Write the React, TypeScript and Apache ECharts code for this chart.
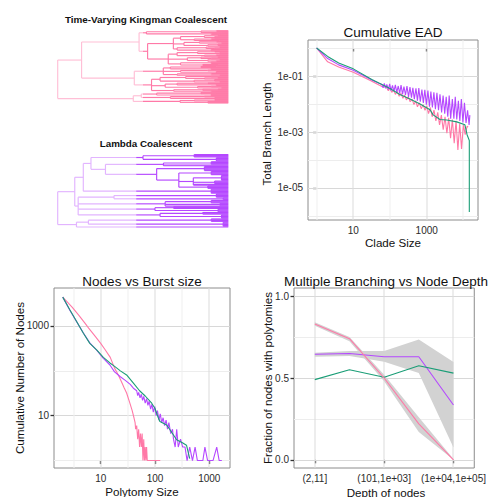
import React, { useEffect, useRef } from 'react';
import * as echarts from 'echarts';

const PINK = '#FF79A7';
const PURPLE = '#B548FF';
const GREEN = '#1B9E77';
const KING_LIGHT = '#FFBFD6';
const LAMBDA_LIGHT = '#E2B4FF';
const RIBBON = '#D2D2D2';
const FONT = '"Liberation Sans", Arial, Helvetica, sans-serif';

type TreeNode = number | TreeNode[];

// Trees: [node time (0 = root, 1 = tips), ...children]; a leaf is 1
const kingmanTree: TreeNode = [0,
  [0.14,
    [0.477,
      [0.52, [0.84, [0.93, 1, 1], [0.96, 1, 1]], [0.9, 1, [0.95, 1, 1]]],
      [0.527,
        [0.678,
          [0.72, [0.86, [0.94, 1, 1], [0.92, 1, 1, 1]], [0.8, [0.9, 1, 1], [0.95, 1, 1]]],
          [0.74, [0.83, [0.93, 1, 1], [0.96, 1, 1]], [0.88, [0.94, 1, 1, 1], 1]],
          [0.7, [0.87, [0.95, 1, 1], [0.92, 1, 1]], [0.9, 1, 1, 1]]
        ],
        [0.648,
          [0.7, [0.82, [0.92, 1, 1], [0.95, 1, 1, 1]], [0.86, [0.93, 1, 1], 1]],
          [0.76, [0.84, [0.94, 1, 1], [0.9, 1, 1]], [0.88, [0.95, 1, 1], [0.93, 1, 1]]],
          [0.72, [0.9, 1, 1, 1], [0.85, [0.94, 1, 1], 1]]
        ]
      ]
    ],
    [0.449,
      [0.619,
        [0.66, [0.84, [0.93, 1, 1], 1], [0.9, 1, 1, 1]],
        [0.72, [0.88, 1, 1], [0.93, 1, 1, 1]],
        [0.7, [0.9, 1, 1], [0.95, 1, 1]]
      ],
      [0.55,
        [0.6, [0.75, [0.9, 1, 1], [0.86, [0.94, 1, 1], 1]], [0.8, [0.92, 1, 1, 1], [0.95, 1, 1]]],
        [0.63, [0.7, [0.88, 1, 1], [0.93, 1, 1, 1]], [0.82, [0.9, 1, 1], [0.96, 1, 1]]],
        [0.68, [0.85, [0.94, 1, 1], 1], [0.9, 1, 1]]
      ]
    ]
  ],
  [0.443,
    [0.49, [0.58, [0.84, [0.93, 1, 1], 1], [0.9, 1, 1, 1]], [0.66, [0.86, 1, 1], [0.92, 1, 1, 1]]],
    [0.717, [0.8, [0.92, 1, 1], 1], [0.88, 1, 1, 1]]
  ]
];

const lambdaTree: TreeNode = [0,
  [0.10,
    [0.15,
      [0.195,
        [0.5, [0.8, 1, 1, 1, 1], [0.93, 1, 1, 1, 1, 1]],
        [0.28,
          [0.62, [0.9, 1, 1, 1, 1], 1, 1],
          [0.58,
            [0.86, 1, 1, 1, 1, 1, 1],
            [0.71,
              [0.9, 1, 1, 1, 1, 1],
              [0.795, [0.96, 1, 1, 1, 1, 1, 1, 1], [0.92, 1, 1, 1, 1], 1, 1],
              [0.88, 1, 1, 1, 1]
            ]
          ]
        ]
      ],
      [0.9, 1, 1, 1, 1, 1, 1]
    ],
    [0.12,
      [0.33, [0.93, 1, 1, 1, 1, 1], [0.97, 1, 1, 1]],
      [0.63, [0.9, 1, 1, 1, 1], [0.95, 1, 1, 1], 1],
      [0.57, [0.68, 1, 1, 1], [0.94, 1, 1, 1, 1]],
      [0.6, [0.85, 1, 1, 1], [0.96, 1, 1, 1, 1, 1]]
    ]
  ],
  [0.11, [0.18, [0.9, 1, 1, 1, 1], [0.97, 1, 1, 1, 1, 1, 1]], 1]
];

// Cumulative EAD (clade size vs total branch length)
const eadPinkSize = [1, 2, 4, 10, 30, 60, 80, 90, 100, 112, 125, 140, 158, 178, 200, 225, 250, 280, 315, 355, 400, 450, 500, 560, 630, 710, 800, 900, 1000, 1120, 1260, 1410, 1580, 1780, 2000, 2240, 2510, 2820, 3160, 3550, 3980, 4470, 5010, 5620, 6310, 7080, 7940, 8910, 10000, 11200, 12600, 13500];
const eadPinkLen = [1.0, 0.32, 0.21, 0.135, 0.068, 0.042, 0.04, 0.03, 0.036, 0.026, 0.032, 0.022, 0.028, 0.019, 0.024, 0.016, 0.021, 0.014, 0.018, 0.012, 0.015, 0.0095, 0.013, 0.008, 0.011, 0.0068, 0.0095, 0.006, 0.0085, 0.0045, 0.0075, 0.0035, 0.006, 0.0025, 0.005, 0.0018, 0.004, 0.0012, 0.0035, 0.0009, 0.0032, 0.0006, 0.0028, 0.0004, 0.0025, 0.00023, 0.002, 0.00025, 0.0018, 0.0008, 0.0016, 0.0015];
const eadPurpleSize = [1, 2, 4, 10, 20, 35, 50, 60, 65, 70, 76, 82, 90, 98, 107, 117, 128, 140, 153, 168, 184, 200, 220, 240, 265, 290, 320, 350, 385, 420, 460, 510, 560, 610, 670, 740, 810, 890, 980, 1080, 1190, 1300, 1430, 1570, 1730, 1900, 2100, 2300, 2550, 2800, 3100, 3400, 3750, 4100, 4500, 5000, 5500, 6000, 6600, 7300, 8000, 8800, 9700, 10700, 11800, 13000, 14300, 15000];
const eadPurpleLen = [1.0, 0.42, 0.25, 0.16, 0.1, 0.068, 0.055, 0.05, 0.038, 0.055, 0.036, 0.05, 0.033, 0.052, 0.03, 0.046, 0.028, 0.048, 0.026, 0.044, 0.024, 0.047, 0.022, 0.042, 0.021, 0.044, 0.018, 0.04, 0.017, 0.038, 0.015, 0.036, 0.013, 0.037, 0.012, 0.033, 0.011, 0.032, 0.0095, 0.03, 0.008, 0.028, 0.0075, 0.026, 0.0065, 0.025, 0.006, 0.022, 0.005, 0.02, 0.0045, 0.018, 0.0035, 0.02, 0.003, 0.015, 0.003, 0.018, 0.0028, 0.013, 0.0025, 0.015, 0.0022, 0.011, 0.0021, 0.006, 0.0018, 0.004];
const eadGreenSize = [1, 2, 4, 10, 32, 100, 186, 350, 660, 1230, 1500, 2300, 3500, 6600, 11000, 12600, 14500, 14500];
const eadGreenLen = [1.0, 0.5, 0.29, 0.18, 0.075, 0.036, 0.022, 0.015, 0.01, 0.0062, 0.0041, 0.0028, 0.0027, 0.0023, 0.0018, 0.0008, 0.0005, 0.0000014];
const eadXTicks = [10, 1000];
const eadXTickLabels = ['10', '1000'];
const eadXMinor = [1, 100, 10000];
const eadYTicks = [0.1, 0.001, 0.00001];
const eadYTickLabels = ['1e-01', '1e-03', '1e-05'];
const eadYMinor = [1, 0.01, 0.0001, 0.000001];

// Nodes vs Burst size (polytomy size vs cumulative number of nodes)
const burstPinkSize = [2, 3, 4, 5, 6, 8, 10, 12, 15, 18, 21, 24, 27, 30, 34, 38, 41, 43, 44, 46, 48, 50, 52, 54, 56, 58, 60, 62, 64, 66, 68, 70, 72, 125];
const burstPinkCount = [4400, 2600, 1700, 1200, 900, 580, 410, 300, 200, 115, 82, 58, 42, 32, 20, 13, 9, 7, 5, 6, 3, 5, 2, 4, 2, 4, 1, 3, 1, 2, 1, 2, 1, 1];
const burstPurpleSize = [2, 2.7, 3.6, 4.8, 6.3, 8.5, 11.2, 14.8, 18, 23, 28, 35, 40, 46, 48, 50, 53, 56, 59, 62, 66, 70, 74, 78, 83, 88, 93, 99, 105, 111, 118, 125, 133, 141, 150, 160, 170, 180, 195, 210, 219, 235, 251, 268, 295, 323, 357, 390, 436, 490, 547, 603, 676, 760, 830, 930, 1020, 1170, 1370, 1520, 1700];
const burstPurpleCount = [4400, 2250, 1250, 700, 420, 285, 190, 135, 95, 74, 62, 50, 41, 36, 28, 33, 25, 30, 22, 27, 19, 24, 17, 21, 14, 18, 12, 16, 10, 13, 8, 11, 7, 9, 6, 8, 5, 7, 4, 5, 3, 2, 5, 2, 3, 2, 2, 1, 2, 1, 2, 1, 1, 1, 2, 1, 1, 1, 2, 1, 1];
const burstGreenSize = [2, 2.7, 3.6, 4.8, 6.3, 8.5, 11.2, 14.8, 18.3, 23, 30, 40, 52, 66, 87, 100, 115, 123, 164, 190, 250, 320, 380, 436];
const burstGreenCount = [4400, 2300, 1260, 690, 410, 290, 200, 150, 124, 100, 81, 53, 36, 27.5, 19, 14.5, 9, 7.4, 6.2, 4.8, 2.9, 2.5, 2.2, 1.1];
const burstXTicks = [10, 100, 1000];
const burstXTickLabels = ['10', '100', '1000'];
const burstXMinor = [3.162, 31.62, 316.2];
const burstYTicks = [10, 1000];
const burstYTickLabels = ['10', '1000'];
const burstYMinor = [1, 100];

// Multiple Branching vs Node Depth
const depthCats = ['(2,11]', '(11,101]', '(101,1e+03]', '(1e+03,1e+04]', '(1e+04,1e+05]'];
const depthPink = [0.83, 0.74, 0.5, 0.22, 0.0];
const depthPinkLo = [0.82, 0.725, 0.48, 0.17, 0.0];
const depthPinkHi = [0.84, 0.75, 0.52, 0.26, 0.005];
const depthPurple = [0.645, 0.65, 0.63, 0.63, 0.335];
const depthPurpleLo = [0.63, 0.635, 0.6, 0.53, 0.075];
const depthPurpleHi = [0.655, 0.665, 0.665, 0.735, 0.598];
const depthGreen = [0.49, 0.55, 0.505, 0.575, 0.53];
const depthXTicks = [1, 3, 5];
const depthYTicks = [0, 0.5, 1];
const depthYTickLabels = ['0.0', '0.5', '1.0'];
const depthYMinor = [0.25, 0.75];

function layoutTree(tree: TreeNode, split: number) {
  const segs: number[][] = [];
  let leaf = 0;
  const addH = (x1: number, x2: number, y: number) => {
    if (x1 < split && x2 > split) {
      segs.push([x1, y, split, y, 0]);
      segs.push([split, y, x2, y, 1]);
    } else {
      segs.push([x1, y, x2, y, x1 >= split ? 1 : 0]);
    }
  };
  const walk = (node: TreeNode, parentT: number | null): number => {
    if (typeof node === 'number') {
      const y = leaf++;
      if (parentT !== null) addH(parentT, 1, y);
      return y;
    }
    const t = node[0] as number;
    const ys = node.slice(1).map((k) => walk(k, t));
    const y = (ys[0] + ys[ys.length - 1]) / 2;
    segs.push([t, ys[0], t, ys[ys.length - 1], t >= split ? 1 : 0]);
    if (parentT !== null) addH(parentT, t, y);
    return y;
  };
  walk(tree, null);
  segs.sort((a, b) => a[4] - b[4]);
  return { segs, n: leaf };
}

const lg = (v: number) => Math.log10(v);
const pairs = (xs: number[], ys: number[]) => xs.map((x, i) => [lg(x), lg(ys[i])]);

export default function App() {
  const ref = useRef<HTMLDivElement>(null);
  useEffect(() => {
    if (!ref.current) return;
    const chart = echarts.init(ref.current, undefined, { renderer: 'svg' });
    const kt = layoutTree(kingmanTree, 0.5);
    const lt = layoutTree(lambdaTree, 0.46);

    const axisCommon = (gridIndex: number, min: number, max: number, ticks: number[], labels: string[]) => ({
      type: 'value', gridIndex, min, max,
      axisLine: { show: false },
      axisTick: { show: true, customValues: ticks, length: 3.5, lineStyle: { color: '#333', width: 1.3 } },
      axisLabel: {
        show: true, customValues: ticks, color: '#2b2b2b', fontSize: 10, fontFamily: FONT, margin: 5,
        formatter: (v: number) => {
          const i = ticks.findIndex((t) => Math.abs(t - v) < 1e-6);
          return i >= 0 ? labels[i] : '';
        },
      },
      splitLine: { show: false },
    });
    const hidden = (gridIndex: number, min: number, max: number, inverse = false) => ({
      type: 'value', gridIndex, min, max, show: false, inverse,
    });

    const treeSeries = (idx: number, segs: number[][], light: string, dark: string) => ({
      type: 'custom', xAxisIndex: idx, yAxisIndex: idx, silent: true,
      data: segs,
      encode: { x: [0, 2], y: [1, 3] },
      renderItem: (_p: any, api: any) => {
        const a = api.coord([api.value(0), api.value(1)]);
        const b = api.coord([api.value(2), api.value(3)]);
        return {
          type: 'line',
          shape: { x1: a[0], y1: a[1], x2: b[0], y2: b[1] },
          style: { stroke: api.value(4) ? dark : light, lineWidth: 1.15 },
        };
      },
    });

    // vertical grid lines as thin rects; horizontal grid lines as markLines
    const gridLines = (idx: number, xMajor: number[], xMinor: number[], yMajor: number[], yMinor: number[], xMin: number, yMin: number) => ({
      type: 'custom', xAxisIndex: idx, yAxisIndex: idx, silent: true, z: 1,
      data: [[xMin, yMin]],
      renderItem: (params: any, api: any) => {
        const cs = params.coordSys;
        const children: any[] = [];
        const vline = (v: number, major: boolean) => {
          const x = Math.round(api.coord([v, yMin])[0]);
          children.push({ type: 'rect', shape: { x: x - 0.5, y: cs.y, width: 1, height: cs.height },
            style: { fill: major ? '#DCDCDC' : '#F0F0F0' } });
        };
        xMinor.forEach((v) => vline(v, false));
        xMajor.forEach((v) => vline(v, true));
        return { type: 'group', children };
      },
      markLine: {
        silent: true, symbol: ['none', 'none'], z: 1, animation: false,
        label: { show: false },
        lineStyle: { type: 'solid', width: 1 },
        data: [
          ...yMinor.map((v) => ({ yAxis: v, lineStyle: { color: '#EDEDED', type: 'solid', width: 1 } })),
          ...yMajor.map((v) => ({ yAxis: v, lineStyle: { color: '#D8D8D8', type: 'solid', width: 1 } })),
        ],
      },
    });

    const line = (idx: number, data: number[][], color: string, z = 3) => ({
      type: 'line', xAxisIndex: idx, yAxisIndex: idx, data, symbol: 'none', silent: true, z,
      lineStyle: { color, width: 1.1 },
    });

    const band = (idx: number, lo: number[], hi: number[]) => ({
      type: 'custom', xAxisIndex: idx, yAxisIndex: idx, silent: true, z: 2,
      data: [[1, lo[0]]],
      renderItem: (_p: any, api: any) => {
        const upper = hi.map((v, i) => api.coord([i + 1, v]));
        const lower = lo.map((v, i) => api.coord([i + 1, v])).reverse();
        return { type: 'polygon', shape: { points: [...upper, ...lower] }, style: { fill: RIBBON } };
      },
    });

    const panel = { show: true, backgroundColor: '#ffffff', borderColor: '#8C8C8C', borderWidth: 1 };

    const txt = (text: string, x: number, y: number, size: number, opts: any = {}) => ({
      type: 'text', x, y, rotation: opts.rotation || 0, silent: true, z: 10,
      style: {
        text, fill: opts.fill || '#111', fontSize: size, fontFamily: FONT,
        fontWeight: opts.bold ? 'bold' : 'normal', align: 'center', verticalAlign: 'middle',
      },
    });

    const eadXMin = -0.234, eadXMax = 4.398, eadYMin = -6.143, eadYMax = 0.286;
    const bXMin = 0.14, bXMax = 3.381, bYMin = -0.166, bYMax = 3.847;

    const option: any = {
      animation: false,
      backgroundColor: '#ffffff',
      grid: [
        { left: 57.7, top: 30.7, width: 170.6, height: 72.3 },
        { left: 57.7, top: 154.5, width: 170.6, height: 72.5 },
        { left: 308, top: 40, width: 170, height: 180, ...panel },
        { left: 54, top: 288, width: 176, height: 180, ...panel },
        { left: 294, top: 288, width: 184, height: 180, ...panel },
      ],
      xAxis: [
        hidden(0, 0, 1),
        hidden(1, 0, 1),
        axisCommon(2, eadXMin, eadXMax, eadXTicks.map(lg), eadXTickLabels),
        axisCommon(3, bXMin, bXMax, burstXTicks.map(lg), burstXTickLabels),
        axisCommon(4, 0.4, 5.6, depthXTicks, depthXTicks.map((t) => depthCats[t - 1])),
      ],
      yAxis: [
        hidden(0, 0, kt.n - 1, true),
        hidden(1, 0, lt.n - 1, true),
        axisCommon(2, eadYMin, eadYMax, eadYTicks.map(lg), eadYTickLabels),
        axisCommon(3, bYMin, bYMax, burstYTicks.map(lg), burstYTickLabels),
        axisCommon(4, -0.05, 1.05, depthYTicks, depthYTickLabels),
      ],
      series: [
        treeSeries(0, kt.segs, KING_LIGHT, PINK),
        treeSeries(1, lt.segs, LAMBDA_LIGHT, PURPLE),
        gridLines(2, eadXTicks.map(lg), eadXMinor.map(lg), eadYTicks.map(lg), eadYMinor.map(lg), eadXMin, eadYMin),
        gridLines(3, burstXTicks.map(lg), burstXMinor.map(lg), burstYTicks.map(lg), burstYMinor.map(lg), bXMin, bYMin),
        gridLines(4, depthXTicks, [], depthYTicks, depthYMinor, 0.4, -0.05),
        line(2, pairs(eadPinkSize, eadPinkLen), PINK),
        line(2, pairs(eadPurpleSize, eadPurpleLen), PURPLE),
        line(2, pairs(eadGreenSize, eadGreenLen), GREEN),
        line(3, pairs(burstPinkSize, burstPinkCount), PINK),
        line(3, pairs(burstPurpleSize, burstPurpleCount), PURPLE),
        line(3, pairs(burstGreenSize, burstGreenCount), GREEN),
        band(4, depthPurpleLo, depthPurpleHi),
        band(4, depthPinkLo, depthPinkHi),
        line(4, depthPurple.map((v, i) => [i + 1, v]), PURPLE),
        line(4, depthGreen.map((v, i) => [i + 1, v]), GREEN),
        line(4, depthPink.map((v, i) => [i + 1, v]), PINK),
      ],
      graphic: [
        txt('Time-Varying Kingman Coalescent', 146, 19, 9.9, { bold: true }),
        txt('Lambda Coalescent', 146, 143, 9.8, { bold: true }),
        txt('Cumulative EAD', 393, 32, 13.5),
        txt('Clade Size', 393, 242, 11.6),
        txt('Total Branch Length', 266.7, 134, 11.6, { rotation: Math.PI / 2 }),
        txt('Nodes vs Burst size', 142, 281, 13.5),
        txt('Polytomy Size', 142, 491.5, 11.6),
        txt('Cumulative Number of Nodes', 19, 378, 11.6, { rotation: Math.PI / 2 }),
        txt('Multiple Branching vs Node Depth', 386, 281, 13.5),
        txt('Depth of nodes', 386, 492, 11.6),
        txt('Fraction of nodes with polytomies', 267.3, 378, 11.6, { rotation: Math.PI / 2 }),
      ],
    };
    chart.setOption(option);
    return () => chart.dispose();
  }, []);
  return (
    <div
      ref={ref}
      style={{ position: 'fixed', left: 0, top: 0, width: 489, height: 497, background: '#fff' }}
    />
  );
}
